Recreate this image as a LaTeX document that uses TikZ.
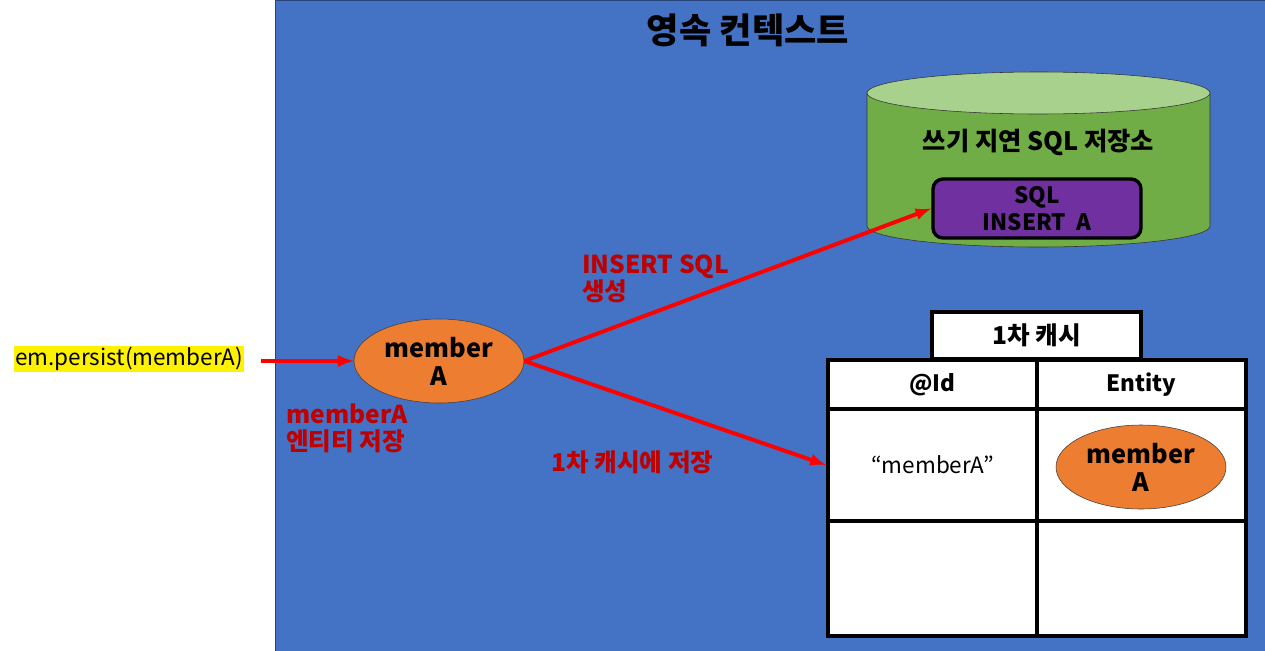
\documentclass[tikz,border=0pt]{standalone}
\usepackage{fontspec}
\setmainfont{Noto Sans CJK KR}
\usepackage{tikz}
\usepackage{xcolor}
\usetikzlibrary{arrows,shapes.geometric}

\definecolor{ctxblue}{HTML}{4472C4}
\definecolor{storegreen}{HTML}{70AD47}
\definecolor{storetop}{HTML}{A9D18E}
\definecolor{sqlpurple}{HTML}{7030A0}
\definecolor{entorange}{HTML}{ED7D31}
\definecolor{labelred}{HTML}{C00000}

\tikzset{
  entity/.style={ellipse,draw=black!75,thin,fill=entorange,minimum width=4.25cm,minimum height=2.1cm,align=center,inner sep=0pt,font=\fontsize{18}{20}\selectfont\bfseries},
  cell/.style={draw=black,line width=2.8pt,fill=white,minimum width=5.225cm,inner sep=0pt,font=\fontsize{16}{18}\selectfont\bfseries},
  redlabel/.style={color=labelred,align=left,inner sep=0pt,font=\fontsize{17.5}{19}\selectfont\bfseries},
  flow/.style={red,line width=2.8pt,-latex},
}

\begin{document}
\begin{tikzpicture}

\useasboundingbox (0cm,0cm) rectangle (31.625cm,-16.275cm);

\draw [fill=ctxblue,draw=ctxblue!60!black] (6.875cm,0cm) rectangle (31.625cm,-16.275cm);
\node [font=\fontsize{25}{27}\selectfont\bfseries] (title) at (18.7cm,-0.75cm) {영속 컨텍스트};

\draw [fill=storegreen,draw=black!80] (21.675cm,-2.325cm) -- (21.675cm,-5.65cm)
  arc [start angle=180,end angle=360,x radius=4.2875cm,y radius=0.525cm] -- (30.25cm,-2.325cm);
\draw [fill=storetop,draw=black!80] (25.9625cm,-2.325cm) ellipse [x radius=4.2875cm,y radius=0.525cm];
\node [font=\fontsize{18}{20}\selectfont\bfseries] (store) at (25.9625cm,-3.55cm) {쓰기 지연 SQL 저장소};
\node [draw=black,line width=2.4pt,fill=sqlpurple,rounded corners=0.25cm,minimum width=5.2cm,minimum height=1.475cm,align=center,inner sep=0pt,font=\fontsize{16}{19}\selectfont\bfseries] (sql) at (25.925cm,-5.2125cm) {SQL\\INSERT\ \ A};

\node [cell,minimum height=1.175cm,font=\fontsize{17.5}{19}\selectfont\bfseries] (cache) at (25.9125cm,-8.3875cm) {1차 캐시};
\node [cell,minimum height=1.225cm] (idhead) at (23.3125cm,-9.6125cm) {@Id};
\node [cell,minimum height=1.225cm] (enthead) at (28.5375cm,-9.6125cm) {Entity};
\node [cell,minimum height=2.8cm,font=\fontsize{16}{18}\selectfont] (idcell) at (23.3125cm,-11.625cm) {“memberA”};
\node [cell,minimum height=2.8cm] (entcell) at (28.5375cm,-11.625cm) {};
\node [cell,minimum height=2.875cm] (idempty) at (23.3125cm,-14.4625cm) {};
\node [cell,minimum height=2.875cm] (entempty) at (28.5375cm,-14.4625cm) {};
\node [entity] (cached) at (28.525cm,-11.675cm) {member\\A};

\node [entity] (member) at (10.975cm,-9.025cm) {member\\A};
\node [fill=yellow,inner sep=1pt,font=\fontsize{16}{18}\selectfont] (persist) at (3.225cm,-8.975cm) {em.persist(memberA)};

\draw [flow,shorten <=0.425cm] (persist.east |- member.west) -- (member.west);
\draw [flow] (member.east) -- (sql.west);
\draw [flow] (member.east) -- (idcell.west);

\node [redlabel,anchor=north west] (sqllabel) at (14.55cm,-6.375cm) {INSERT\ SQL\\생성};
\node [redlabel,anchor=north west] (savelabel) at (7.15cm,-10.1cm) {memberA\\엔티티 저장};
\node [redlabel,anchor=west] (cachelabel) at (13.775cm,-11.55cm) {1차 캐시에 저장};

\end{tikzpicture}
\end{document}
